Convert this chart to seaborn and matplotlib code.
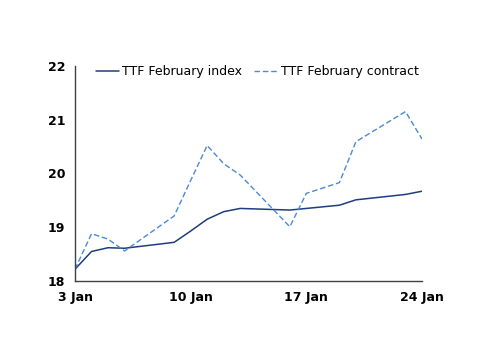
import pandas as pd
import matplotlib
matplotlib.use("Agg")
import matplotlib.pyplot as plt
import matplotlib.dates as mdates
import seaborn as sns

# --- DADOS ---
dates = ["2023-01-03", "2023-01-04", "2023-01-05", "2023-01-06", "2023-01-09",
         "2023-01-10", "2023-01-11", "2023-01-12", "2023-01-13", "2023-01-16",
         "2023-01-17", "2023-01-18", "2023-01-19", "2023-01-20", "2023-01-23",
         "2023-01-24"]
index_vals = [18.22, 18.55, 18.62, 18.61, 18.72, 18.93, 19.15, 19.29, 19.35,
              19.32, 19.35, 19.38, 19.41, 19.51, 19.61, 19.67]
contract_vals = [18.22, 18.88, 18.78, 18.56, 19.21, 19.87, 20.52, 20.18, 19.97,
                 19.01, 19.63, 19.73, 19.83, 20.59, 21.15, 20.64]
xtick_dates = ["2023-01-03", "2023-01-10", "2023-01-17", "2023-01-24"]

SOLID = "#1f3d7f"
DASHED = "#4a8ad6"

df = pd.DataFrame({"date": pd.to_datetime(dates),
                   "TTF February index": index_vals,
                   "TTF February contract": contract_vals})

sns.set_style("white")
plt.rcParams["font.family"] = ["DejaVu Sans"]
plt.rcParams["text.color"] = "black"

fig = plt.figure(figsize=(5, 3.54), dpi=100)
ax = fig.add_axes([0.15, 0.206, 0.694, 0.608])

sns.lineplot(data=df, x="date", y="TTF February index", ax=ax, color=SOLID,
             linewidth=1.1, label="TTF February index")
sns.lineplot(data=df, x="date", y="TTF February contract", ax=ax, color=DASHED,
             linewidth=1.0, linestyle=(0, (4, 2)), label="TTF February contract")

ax.set_xlim(pd.Timestamp("2023-01-03"), pd.Timestamp("2023-01-24"))
ax.set_ylim(18, 22)
ax.set_yticks([18, 19, 20, 21, 22])
ax.set_xticks(pd.to_datetime(xtick_dates))
ax.xaxis.set_major_formatter(mdates.DateFormatter("%-d Jan"))
ax.set_xlabel("")
ax.set_ylabel("")

for s in ["top", "right"]:
    ax.spines[s].set_visible(False)
for s in ["left", "bottom"]:
    ax.spines[s].set_color("#404040")
    ax.spines[s].set_linewidth(1.0)
ax.tick_params(axis="both", direction="out", length=4, width=1, color="#404040",
               labelsize=9, labelcolor="black", pad=3)
for lab in ax.get_xticklabels() + ax.get_yticklabels():
    lab.set_fontweight("bold")

leg = ax.legend(loc="upper center", bbox_to_anchor=(0.525, 1.025), ncol=2, frameon=False,
                fontsize=9, handlelength=1.9, handletextpad=0.2, columnspacing=1.0,
                borderaxespad=0)
for t in leg.get_texts():
    t.set_color("black")

fig.savefig("out.png", dpi=100)
